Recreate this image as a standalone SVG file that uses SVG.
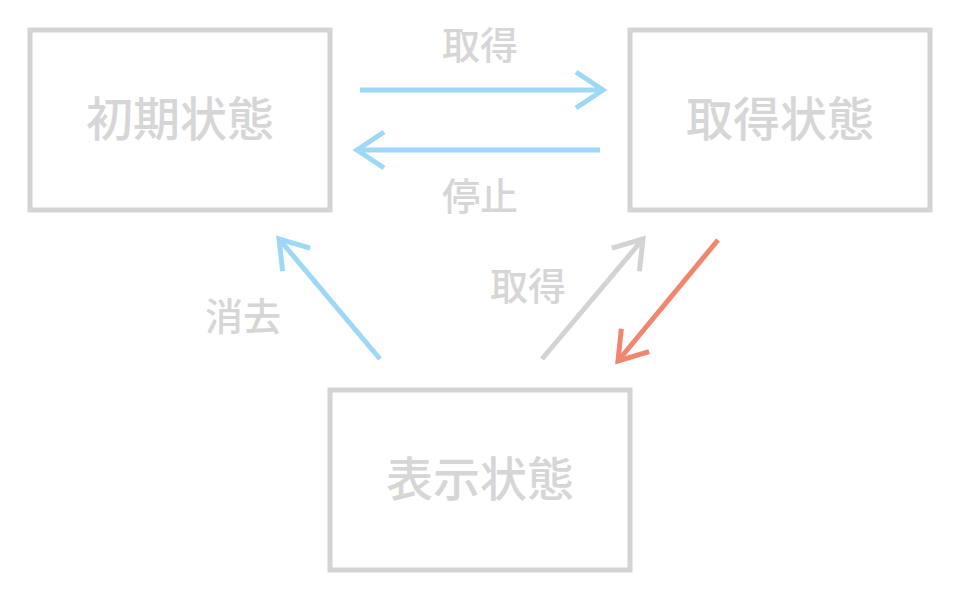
<svg xmlns="http://www.w3.org/2000/svg" width="960" height="600" viewBox="0 0 960 600">
<style>
.box{fill:#fff;stroke:#d3d3d3;stroke-width:5}
.t{font-family:"Noto Sans CJK JP",sans-serif;fill:#d6d6d6;text-anchor:middle;font-weight:500}
.n{font-size:47px}
.l{font-size:38px}
.c{fill:none;stroke-width:5;stroke-linecap:butt}
</style>
<defs>
<marker id="hb" markerWidth="12" markerHeight="12" refX="9" refY="6" orient="auto" markerUnits="userSpaceOnUse" viewBox="0 0 12 12" overflow="visible">
<path d="M-18,-12 L9,6 L-18,24" fill="none" stroke="#9dd9f7" stroke-width="5"/>
</marker>
<marker id="hg" markerWidth="12" markerHeight="12" refX="9" refY="6" orient="auto" markerUnits="userSpaceOnUse" viewBox="0 0 12 12" overflow="visible">
<path d="M-18,-12 L9,6 L-18,24" fill="none" stroke="#d3d3d3" stroke-width="5"/>
</marker>
<marker id="hr" markerWidth="12" markerHeight="12" refX="9" refY="6" orient="auto" markerUnits="userSpaceOnUse" viewBox="0 0 12 12" overflow="visible">
<path d="M-18,-12 L9,6 L-18,24" fill="none" stroke="#f0866f" stroke-width="5"/>
</marker>
</defs>
<rect width="960" height="600" fill="#fff"/>
<g id="n1"><rect class="box" x="30" y="30" width="300" height="180"/><text class="t n" x="180" y="136">初期状態</text></g>
<g id="n2"><rect class="box" x="630" y="30" width="300" height="180"/><text class="t n" x="780" y="136">取得状態</text></g>
<g id="n3"><rect class="box" x="330" y="390" width="300" height="180"/><text class="t n" x="480" y="496">表示状態</text></g>
<g id="connectors">
<line class="c" x1="360" y1="90" x2="603" y2="90" stroke="#9dd9f7" marker-end="url(#hb)"/>
<line class="c" x1="600" y1="150" x2="357" y2="150" stroke="#9dd9f7" marker-end="url(#hb)"/>
<line class="c" x1="380" y1="359" x2="279" y2="239" stroke="#9dd9f7" marker-end="url(#hb)"/>
<line class="c" x1="542" y1="359" x2="643" y2="239" stroke="#d3d3d3" marker-end="url(#hg)"/>
<line class="c" x1="718" y1="240" x2="618" y2="361" stroke="#f0866f" marker-end="url(#hr)"/>
<text class="t l" x="480" y="59">取得</text>
<text class="t l" x="480" y="210">停止</text>
<text class="t l" x="243" y="330">消去</text>
<text class="t l" x="528" y="300">取得</text>
</g>
</svg>
